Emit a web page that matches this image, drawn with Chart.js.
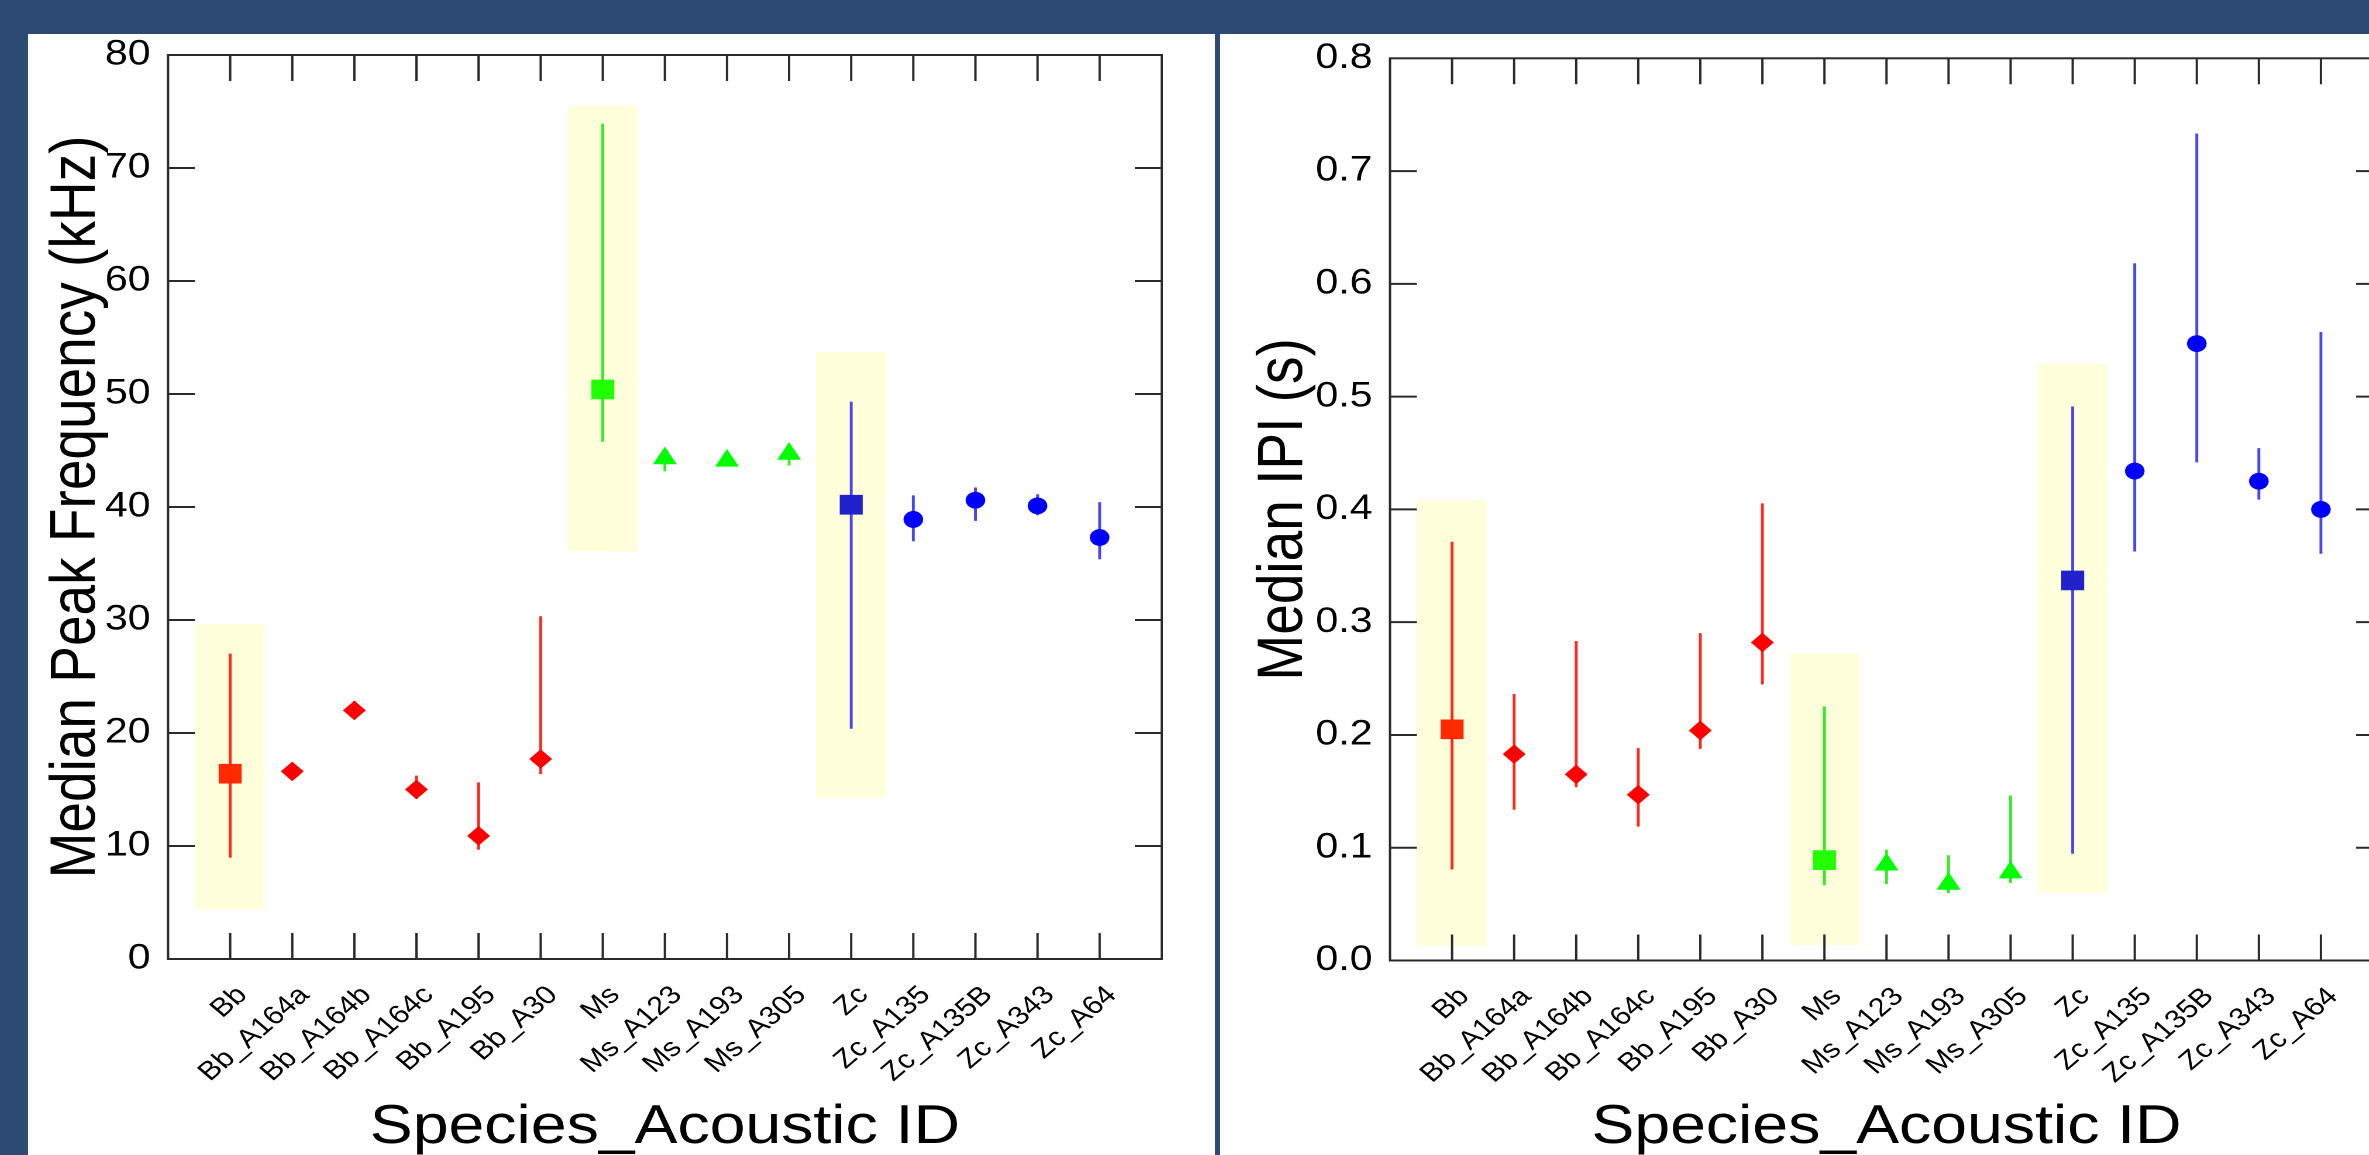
<!DOCTYPE html>
<html>
<head>
<meta charset="utf-8">
<title>Median peak frequency and IPI by acoustic ID</title>
<script src="https://cdn.jsdelivr.net/npm/chart.js@4.4.0/dist/chart.umd.min.js"></script>
<style>
  html, body { margin: 0; padding: 0; width: 2369px; height: 1155px; overflow: hidden; background: #2c4a73; }
  .panel { position: absolute; top: 34px; height: 1121px; background: #fff; overflow: hidden; }
  #leftPanel { left: 28px; width: 1187px; }
  #rightPanel { left: 1220px; width: 1149px; }
  /* the original figure is stretched sideways */
  .stretch { position: absolute; left: 0; top: 0; transform: scaleX(1.17); transform-origin: 0 0; }
</style>
</head>
<body>
<div class="panel" id="leftPanel"><div class="stretch"><canvas id="freqChart" width="1015" height="1121"></canvas></div></div>
<div class="panel" id="rightPanel"><div class="stretch"><canvas id="ipiChart" width="1060" height="1121"></canvas></div></div>

<script>
// x axis categories
var categories = ['Bb', 'Bb_A164a', 'Bb_A164b', 'Bb_A164c', 'Bb_A195', 'Bb_A30',
                  'Ms', 'Ms_A123', 'Ms_A193', 'Ms_A305',
                  'Zc', 'Zc_A135', 'Zc_A135B', 'Zc_A343', 'Zc_A64'];
// species group of each category (0 = Bb, 1 = Ms, 2 = Zc)
var groupOf = [0, 0, 0, 0, 0, 0, 1, 1, 1, 1, 2, 2, 2, 2, 2];
// species-level categories (highlighted)
var speciesIdx = [0, 6, 10];

// median peak frequency (kHz) and its range
var freqMedian = [16.4, 16.6, 22.0, 15.0, 10.9, 17.7, 50.4, 44.3, 44.1, 44.7, 40.2, 38.9, 40.6, 40.1, 37.3];
var freqLow    = [9.0, 16.3, 21.5, 14.2, 9.7, 16.4, 45.8, 43.2, 43.9, 43.7, 20.4, 37.0, 38.8, 39.3, 35.4];
var freqHigh   = [27.0, 17.0, 22.8, 16.2, 15.6, 30.3, 73.9, 44.8, 44.4, 45.2, 49.3, 41.0, 41.7, 41.1, 40.4];
var freqBoxLow  = [4.4, 36.1, 14.3];
var freqBoxHigh = [29.6, 75.5, 53.7];
var freqTicks = [0, 10, 20, 30, 40, 50, 60, 70, 80];

// median IPI (s) and its range
var ipiMedian = [0.205, 0.183, 0.165, 0.147, 0.204, 0.282, 0.089, 0.085, 0.068, 0.078, 0.337, 0.434, 0.547, 0.425, 0.400];
var ipiLow    = [0.081, 0.134, 0.154, 0.119, 0.188, 0.245, 0.067, 0.068, 0.060, 0.069, 0.095, 0.363, 0.442, 0.409, 0.361];
var ipiHigh   = [0.371, 0.236, 0.283, 0.188, 0.290, 0.405, 0.225, 0.098, 0.093, 0.146, 0.491, 0.618, 0.733, 0.454, 0.557];
var ipiBoxLow  = [0.013, 0.014, 0.060];
var ipiBoxHigh = [0.408, 0.272, 0.529];
var ipiTicks = [0, 0.1, 0.2, 0.3, 0.4, 0.5, 0.6, 0.7, 0.8];

var FONT = 'Liberation Sans, Arial, sans-serif';
var lineColors = ['#ff2a1a', '#33ee22', '#4848ee'];
var squareColors = ['#ff2a00', '#22ff00', '#2222cc'];
var markerSets = [
  { group: 0, style: 'rectRot', radius: 9.8, color: '#ff0000' },
  { group: 1, style: 'triangle', radius: 11.8, color: '#00ff00' },
  { group: 2, style: 'circle', radius: 8.4, color: '#0000ff' }
];

// box frame with inward ticks on all four sides
var frameTicks = {
  id: 'frameTicks',
  afterDatasetsDraw: function (chart) {
    var ctx = chart.ctx, a = chart.chartArea, x = chart.scales.x, y = chart.scales.y;
    ctx.save();
    ctx.strokeStyle = '#2a2a2a';
    ctx.lineWidth = 2;
    ctx.beginPath();
    x.ticks.forEach(function (t) {
      var px = x.getPixelForValue(t.value);
      ctx.moveTo(px, a.bottom); ctx.lineTo(px, a.bottom - 26);
      ctx.moveTo(px, a.top); ctx.lineTo(px, a.top + 26);
    });
    y.ticks.forEach(function (t) {
      if (t.value <= y.min || t.value >= y.max) return;
      var py = y.getPixelForValue(t.value);
      ctx.moveTo(a.left, py); ctx.lineTo(a.left + 23, py);
      ctx.moveTo(a.right, py); ctx.lineTo(a.right - 23, py);
    });
    ctx.stroke();
    ctx.strokeRect(a.left, a.top, a.right - a.left, a.bottom - a.top);
    ctx.restore();
  }
};

function noPad(s) {
  s.paddingTop = 0; s.paddingBottom = 0; s.paddingLeft = 0; s.paddingRight = 0;
}

function makeChart(id, median, low, high, boxLow, boxHigh, yTicks, yTitle, fmt, lay) {
  var datasets = [];
  datasets.push({
    type: 'bar', order: 3, grouped: false, barThickness: 59,
    backgroundColor: '#ffffdc', borderWidth: 0,
    data: speciesIdx.map(function (c, k) { return { x: c + 1, y: [boxLow[k], boxHigh[k]] }; })
  });
  datasets.push({
    type: 'bar', order: 2, grouped: false, barThickness: 1.8, borderWidth: 0,
    backgroundColor: categories.map(function (c, i) { return lineColors[groupOf[i]]; }),
    data: categories.map(function (c, i) { return { x: i + 1, y: [low[i], high[i]] }; })
  });
  datasets.push({
    type: 'scatter', order: 1, pointStyle: 'rect', pointRadius: 13.9,
    backgroundColor: squareColors, borderColor: squareColors, borderWidth: 0,
    data: speciesIdx.map(function (i) { return { x: i + 1, y: median[i] }; })
  });
  markerSets.forEach(function (m) {
    var pts = [];
    categories.forEach(function (c, i) {
      if (groupOf[i] === m.group && speciesIdx.indexOf(i) < 0) pts.push({ x: i + 1, y: median[i] });
    });
    datasets.push({
      type: 'scatter', order: 1, pointStyle: m.style, pointRadius: m.radius,
      backgroundColor: m.color, borderColor: m.color, borderWidth: 0, data: pts
    });
  });

  return new Chart(document.getElementById(id).getContext('2d'), {
    type: 'scatter',
    data: { datasets: datasets },
    options: {
      responsive: false,
      devicePixelRatio: 2,
      animation: false,
      layout: { autoPadding: false, padding: lay.padding },
      plugins: { legend: { display: false }, tooltip: { enabled: false } },
      scales: {
        x: {
          type: 'linear', min: 0, max: categories.length + 1, offset: false,
          grid: { display: false, drawTicks: false, offset: false }, border: { display: false },
          afterBuildTicks: function (s) { s.ticks = categories.map(function (c, i) { return { value: i + 1 }; }); },
          afterFit: function (s) { s.height = lay.xHeight; noPad(s); },
          ticks: {
            autoSkip: false, minRotation: 45, maxRotation: 45, padding: 21, labelOffset: 10.5,
            color: '#000', font: { family: FONT, size: 26 },
            callback: function (v) { return categories[v - 1]; }
          },
          title: { display: true, text: 'Species_Acoustic ID', color: '#000', font: { family: FONT, size: 55 }, padding: { top: 0, bottom: -6 } }
        },
        y: {
          type: 'linear', min: yTicks[0], max: yTicks[yTicks.length - 1],
          grid: { display: false, drawTicks: false }, border: { display: false },
          afterBuildTicks: function (s) { s.ticks = yTicks.map(function (v) { return { value: v }; }); },
          afterFit: function (s) { s.width = lay.yWidth; noPad(s); },
          ticks: { padding: 15, color: '#000', font: { family: FONT, size: 35 }, callback: fmt },
          title: { display: true, text: yTitle, color: '#000', font: { family: FONT, size: 55 }, padding: { top: lay.titlePad, bottom: 0 } }
        }
      }
    },
    plugins: [frameTicks]
  });
}

makeChart('freqChart', freqMedian, freqLow, freqHigh, freqBoxLow, freqBoxHigh, freqTicks,
  'Median Peak Frequency (kHz)', function (v) { return String(v); },
  { padding: { left: 0, top: 21, right: 46, bottom: 0 }, xHeight: 196, yWidth: 119.7, titlePad: 8.6 });

makeChart('ipiChart', ipiMedian, ipiLow, ipiHigh, ipiBoxLow, ipiBoxHigh, ipiTicks,
  'Median IPI (s)', function (v) { return v.toFixed(1); },
  { padding: { left: 0, top: 24.3, right: 66, bottom: 0 }, xHeight: 194.5, yWidth: 145.3, titlePad: 21.6 });
</script>
</body>
</html>
